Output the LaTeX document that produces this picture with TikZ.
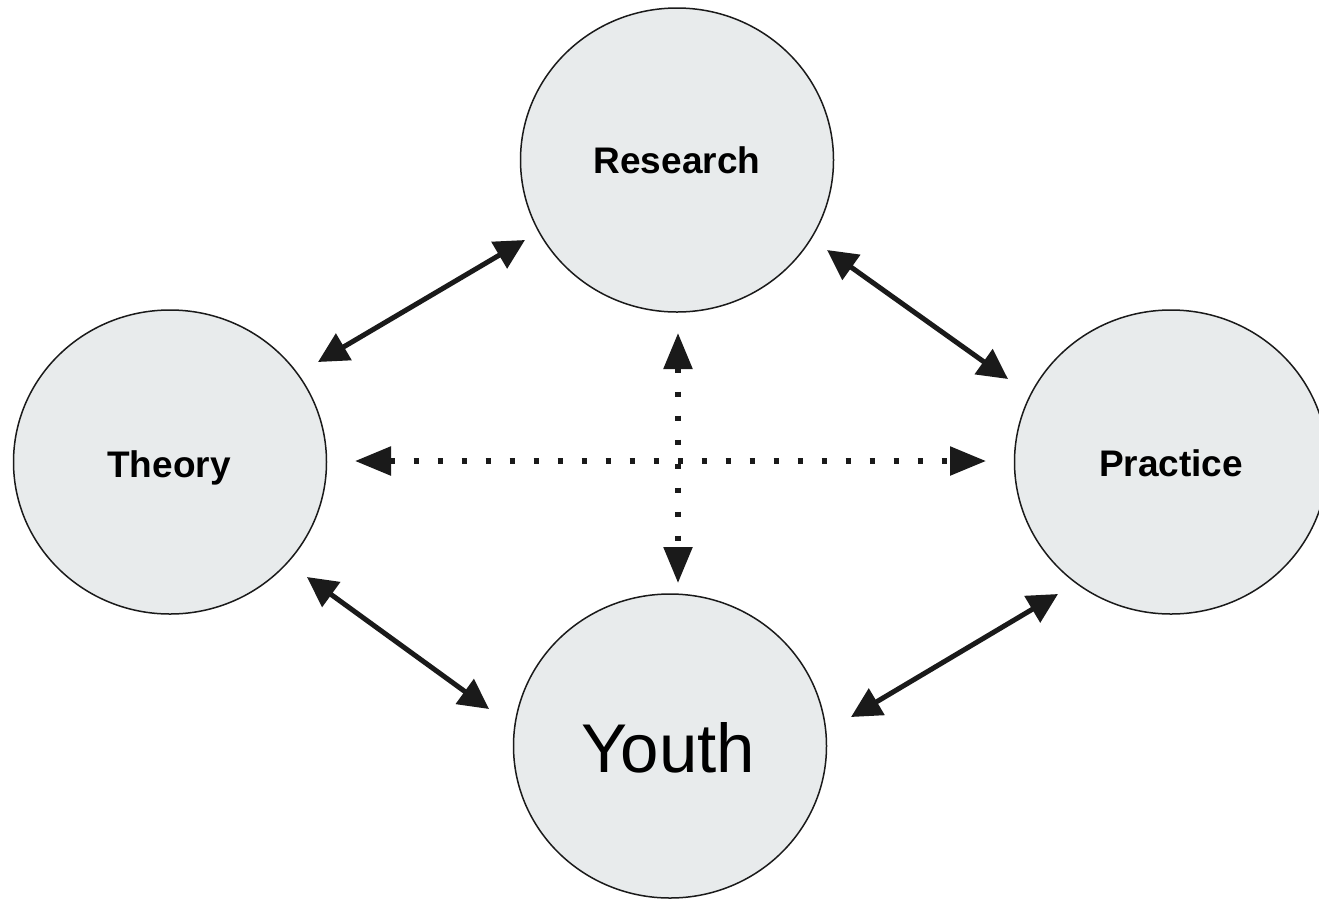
\documentclass[tikz,border=0pt]{standalone}
\usepackage{fontspec}
\setmainfont{Liberation Sans}
\usetikzlibrary{arrows.meta,shapes.geometric}
\definecolor{circfill}{HTML}{E8EBEC}
\definecolor{ink}{HTML}{1A1A1A}
\begin{document}
\begin{tikzpicture}[x=1pt,y=-1pt,
  bubble/.style={ellipse,draw=ink,line width=1.5pt,fill=circfill,minimum width=313pt,minimum height=304pt,inner sep=0pt},
  lbl/.style={font=\fontsize{37}{40}\selectfont\bfseries,anchor=base},
  solidarr/.style={line width=5pt,draw=ink,{Triangle[length=30pt,width=30pt]}-{Triangle[length=30pt,width=30pt]}},
  dotarr/.style={line width=5.5pt,draw=ink,dash pattern=on 5.5pt off 18.5pt,{Triangle[length=36pt,width=28pt]}-{Triangle[length=36pt,width=28pt]}}]
\useasboundingbox (0,0) rectangle (1319,898);
\begin{scope}
\clip (0,0) rectangle (1319,898);
\node[bubble] (research) at (677,160) {};
\node[bubble] (theory) at (170,462) {};
\node[bubble] (practice) at (1171,462) {};
\node[bubble] (youth) at (670,746) {};
\end{scope}
\node[lbl] at (677,173) {Research};
\node[lbl] at (169,477) {Theory};
\node[lbl] at (1171,476) {Practice};
\node[font=\fontsize{69}{72}\selectfont,anchor=base] at (668,772) {Youth};
\coordinate (tr1) at (318,362); \coordinate (tr2) at (525,240);
\coordinate (rp1) at (827,250); \coordinate (rp2) at (1008,379);
\coordinate (ty1) at (307,577); \coordinate (ty2) at (489,709);
\coordinate (yp1) at (851,717); \coordinate (yp2) at (1058,594);
\coordinate (h1) at (355,461); \coordinate (h2) at (986,461);
\coordinate (v1) at (678,333); \coordinate (v2) at (678,583);
\draw[solidarr] (tr1) -- (tr2);
\draw[solidarr] (rp1) -- (rp2);
\draw[solidarr] (ty1) -- (ty2);
\draw[solidarr] (yp1) -- (yp2);
\draw[dotarr] (h1) -- (h2);
\draw[dotarr] (v1) -- (v2);
\end{tikzpicture}
\end{document}
